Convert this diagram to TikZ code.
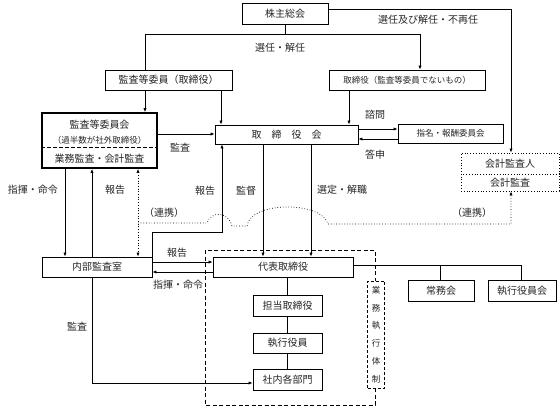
\documentclass[tikz,border=0pt]{standalone}
\usepackage{fontspec}
\setmainfont{Noto Sans CJK JP}
\usetikzlibrary{arrows.meta}
\begin{document}
\begin{tikzpicture}[x=1pt,y=-1pt,
  every node/.style={font=\fontsize{10}{12}\selectfont, text=black!85},
  bx/.style={draw, line width=0.8pt, fill=white, inner sep=0pt, minimum width=#1},
  sm/.style={font=\fontsize{8.5}{10}\selectfont},
  lbl/.style={inner sep=0pt},
  ln/.style={line width=0.7pt},
  arr/.style={line width=0.7pt, -{Latex[length=4pt,width=3.2pt]}},
  darr/.style={line width=0.7pt, dotted, {Latex[length=4pt,width=3.2pt]}-{Latex[length=4pt,width=3.2pt]}},
  dash box/.style={draw, line width=0.8pt, dash pattern=on 4pt off 2.5pt}
]
\useasboundingbox (0,0) rectangle (560,408);

% big dashed region
\draw[dash box] (205,250) rectangle (375,405);

% nodes
\node[bx=86, minimum height=21] (kabu) at (285,13.5) {株主総会};
\node[bx=127, minimum height=20] (kant) at (168.5,80) {監査等委員（取締役）};
\node[bx=156, minimum height=20, sm] (torinon) at (407,80) {取締役（監査等委員でないもの）};
\node[draw, line width=1.6pt, fill=white, minimum width=115, minimum height=55, inner sep=0pt] (kanc) at (99.5,140.5) {};
\node[lbl] (kanc1) at (99.5,125) {監査等委員会};
\node[lbl, sm] (kanc2) at (99.5,140) {（過半数が社外取締役）};
\node[lbl] (kanc3) at (99.5,158.5) {業務監査・会計監査};
\draw[line width=1.2pt, dash pattern=on 4pt off 2pt] (kanc.west |- 0,147.5) -- (kanc.east |- 0,147.5);
\node[bx=143, minimum height=19] (tkai) at (286.5,134.5) {取\hspace{1em}締\hspace{1em}役\hspace{1em}会};
\node[bx=105, minimum height=19, sm] (shimei) at (450.5,133.5) {指名・報酬委員会};
\node[draw, line width=0.8pt, dotted, fill=white, minimum width=98, minimum height=38, inner sep=0pt] (kaikei) at (510,172) {};
\node[lbl] at (510,164) {会計監査人};
\node[lbl] at (510,183) {会計監査};
\draw[line width=0.8pt, dotted] (kaikei.west |- 0,174) -- (kaikei.east |- 0,174);
\node[bx=110, minimum height=20] (naibu) at (97,267) {内部監査室};
\node[bx=140, minimum height=20] (daihyo) at (283,267) {代表取締役};
\node[bx=69, minimum height=21] (tanto) at (287.5,305.5) {担当取締役};
\node[bx=69, minimum height=20] (shikko) at (287.5,343) {執行役員};
\node[bx=69, minimum height=21] (shanai) at (287.5,379.5) {社内各部門};
\node[bx=66, minimum height=21] (jomu) at (441,290.5) {常務会};
\node[bx=68, minimum height=21] (shikkai) at (522,290.5) {執行役員会};
\node[draw, line width=0.8pt, dash pattern=on 3pt off 2pt, fill=white, minimum width=17, minimum height=107, inner sep=0pt, font=\fontsize{8.5}{17.8}\selectfont, align=center] (taisei) at (376,334.5) {業\\務\\執\\行\\体\\制};

% top connectors
\draw[ln] (kabu.south -| 285,0) -- (285,34);
\draw[ln] (kant.north -| 145,0) -- (145,34) -- (420,34);
\draw[arr] (420,34) -- (torinon.north -| 420,0);
\draw[arr] (kabu.east |- 0,9) -- (511,9) -- (kaikei.north -| 511,0);
\node[lbl] at (280,48) {選任・解任};
\node[lbl] at (428,20) {選任及び解任・不再任};

\draw[arr] (kant.south -| 145,0) -- (kanc.north -| 145,0);
\draw[arr] (kant.south -| 221,0) -- (tkai.north -| 221,0);
\draw[arr] (torinon.south -| 349,0) -- (tkai.north -| 349,0);

\draw[arr] (kanc.east |- 0,134) -- (tkai.west |- 0,134);
\node[lbl] at (180,148) {監査};
\draw[arr] (tkai.east |- 0,129) -- (shimei.west |- 0,129);
\draw[arr] (shimei.west |- 0,139) -- (tkai.east |- 0,139);
\node[lbl] at (375,115) {諮問};
\node[lbl] at (375,155) {答申};

% audit committee <-> internal audit
\draw[arr] (kanc.south -| 65,0) -- (naibu.north -| 65,0);
\draw[arr] (naibu.north -| 92,0) -- (kanc.south -| 92,0);
\draw[darr] (kanc.south -| 138,0) -- (naibu.north -| 138,0);
\node[lbl] at (33,190) {指揮・命令};
\node[lbl] at (115,190) {報告};

% report to board
\draw[arr] (naibu.north -| 152,0) -- (152,232) -- (222,232) -- (tkai.south -| 222,0);
\draw[arr] (tkai.south -| 263,0) -- (daihyo.north -| 263,0);
\draw[arr] (tkai.south -| 311,0) -- (daihyo.north -| 311,0);
\node[lbl] at (205,191) {報告};
\node[lbl] at (246,191) {監督};
\node[lbl] at (342,190) {選定・解職};

% cooperation dotted
\draw[line width=0.7pt, dotted, -{Latex[length=4pt,width=3.2pt]}] (138,223) -- (207,223) .. controls (211,211) and (228,211) .. (232,226) -- (247,226) .. controls (250,201) and (322,201) .. (328,224) -- (511,224) -- (kaikei.south -| 511,0);
\node[lbl] at (164,213) {（連携）};
\node[lbl] at (472,213) {（連携）};

% internal audit <-> representative
\draw[arr] (naibu.east |- 0,262) -- (daihyo.west |- 0,262);
\draw[arr] (daihyo.west |- 0,272) -- (naibu.east |- 0,272);
\node[lbl] at (177,253) {報告};
\node[lbl] at (178,285) {指揮・命令};
\draw[arr] (naibu.south -| 92,0) -- (92,383) -- (shanai.west |- 0,383);
\node[lbl] at (77,327) {監査};

% executive chain
\draw[ln] (daihyo.south -| 287.5,0) -- (tanto.north);
\draw[ln] (tanto.south) -- (shikko.north);
\draw[ln] (shikko.south) -- (shanai.north);

% to committees
\draw[ln] (daihyo.east |- 0,265) -- (521,265);
\draw[ln] (440,265) -- (jomu.north -| 440,0);
\draw[ln] (521,265) -- (shikkai.north -| 521,0);
\end{tikzpicture}
\end{document}
